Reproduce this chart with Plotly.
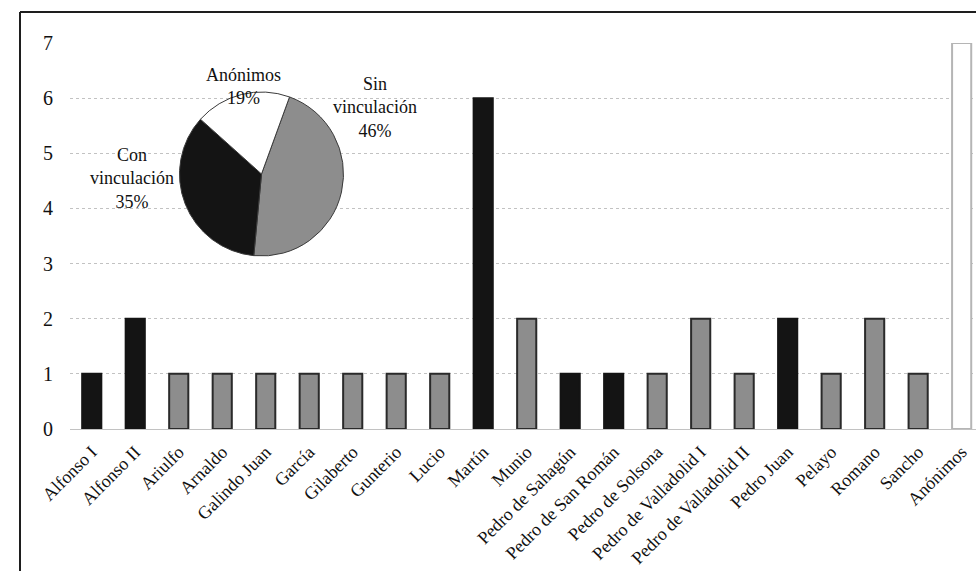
import plotly.graph_objects as go

# Number of works per master
masters = [
    "Alfonso I", "Alfonso II", "Ariulfo", "Arnaldo", "Galindo Juan", "García",
    "Gilaberto", "Gunterio", "Lucio", "Martín", "Munio", "Pedro de Sahagún",
    "Pedro de San Román", "Pedro de Solsona", "Pedro de Valladolid I",
    "Pedro de Valladolid II", "Pedro Juan", "Pelayo", "Romano", "Sancho", "Anónimos",
]
works = [1, 2, 1, 1, 1, 1, 1, 1, 1, 6, 2, 1, 1, 1, 2, 1, 2, 1, 2, 1, 7]
# group of each master: "con" = con vinculación, "sin" = sin vinculación, "anon" = anónimos
group = [
    "con", "con", "sin", "sin", "sin", "sin", "sin", "sin", "sin", "con", "sin", "con",
    "con", "sin", "sin", "sin", "con", "sin", "sin", "sin", "anon",
]

fill_of = {"con": "#141414", "sin": "#8d8d8d", "anon": "#ffffff"}
edge_of = {"con": "#141414", "sin": "#2a2a2a", "anon": "#b5b5b5"}

# Pie summary built from the same data
pie_labels = ["Sin<br>vinculación", "Con<br>vinculación", "Anónimos"]
pie_keys = ["sin", "con", "anon"]
pie_values = [sum(w for w, g in zip(works, group) if g == k) for k in pie_keys]
pie_colors = ["#8d8d8d", "#141414", "#ffffff"]
total = sum(pie_values)

W, H = 976, 571
ML, MR, MT, MB = 70, 0, 43, 142
PW, PH = W - ML - MR, H - MT - MB


def px(x):
    return (x - ML) / PW


def py(y):
    return (H - MB - y) / PH


SERIF = "Liberation Serif"

fig = go.Figure()

fig.add_trace(go.Bar(
    x=masters,
    y=works,
    width=0.44,
    marker=dict(
        color=[fill_of[g] for g in group],
        line=dict(color=[edge_of[g] for g in group], width=2),
    ),
    showlegend=False,
    hoverinfo="x+y",
))

fig.add_trace(go.Pie(
    labels=pie_labels,
    values=pie_values,
    sort=False,
    direction="clockwise",
    rotation=20,
    marker=dict(colors=pie_colors, line=dict(color="#3a3a3a", width=1)),
    textinfo="none",
    domain=dict(x=[px(178), px(345)], y=[py(256), py(92)]),
    showlegend=False,
))

# Outside labels of the pie, percentages taken from the pie values
label_pos = {"sin": (375, 107), "con": (132, 178), "anon": (243, 87)}
for lab, key, val in zip(pie_labels, pie_keys, pie_values):
    x, y = label_pos[key]
    fig.add_annotation(
        x=px(x), y=py(y), xref="paper", yref="paper",
        text=f"{lab}<br>{round(100 * val / total)}%",
        showarrow=False, xanchor="center", yanchor="middle",
        font=dict(family=SERIF, size=18, color="#111111"),
    )

# Outer frame (left and top edges)
frame = dict(type="line", xref="paper", yref="paper",
             line=dict(color="#1e1e1e", width=2), layer="above")
fig.add_shape(**frame, x0=px(20), x1=px(20), y0=py(12), y1=py(H))
fig.add_shape(**frame, x0=px(20), x1=px(W), y0=py(12), y1=py(12))

fig.update_layout(
    width=W, height=H,
    margin=dict(l=ML, r=MR, t=MT, b=MB, pad=0, autoexpand=False),
    paper_bgcolor="white", plot_bgcolor="white",
    font=dict(family=SERIF, color="#111111"),
    bargap=0.5,
)
fig.update_xaxes(
    type="category",
    range=[-0.5, (W - ML) / (PW / 20.83) - 0.5],
    tickangle=-45,
    ticklabelstandoff=8,
    automargin=False,
    tickfont=dict(family=SERIF, size=18, color="#111111"),
    showgrid=False, showline=False, ticks="", zeroline=False,
)
fig.update_yaxes(
    range=[0, 7], dtick=1,
    showgrid=True, gridcolor="#c2c2c2", griddash="dot", gridwidth=1,
    zeroline=True, zerolinecolor="#c2c2c2", zerolinewidth=1,
    showline=False, ticks="",
    automargin=False,
    ticklabelstandoff=16,
    tickfont=dict(family=SERIF, size=20, color="#111111"),
)

fig.write_html("out.html")
